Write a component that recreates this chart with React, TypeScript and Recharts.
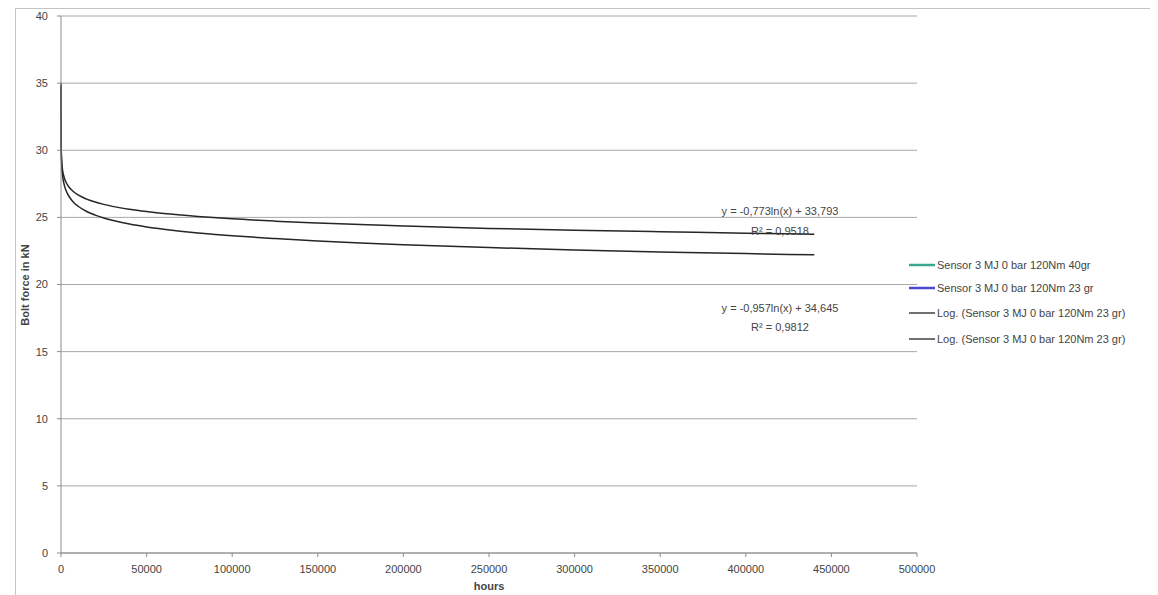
import React from "react";
import { LineChart, Line, XAxis, YAxis, CartesianGrid } from "recharts";

const hours = [0, 100, 500, 1000, 2000, 3000, 5000, 7000, 10000, 15000, 20000, 25000, 30000, 40000, 50000, 60000, 80000, 100000, 125000, 150000, 175000, 200000, 250000, 300000, 350000, 400000, 440000];
const upperCurve = [35.0, 30.25, 28.99, 28.45, 27.92, 27.6, 27.21, 26.95, 26.67, 26.36, 26.14, 25.97, 25.82, 25.6, 25.43, 25.29, 25.07, 24.89, 24.72, 24.58, 24.46, 24.36, 24.18, 24.04, 23.93, 23.82, 23.75];
const lowerCurve = [34.8, 30.24, 28.7, 28.03, 27.37, 26.98, 26.5, 26.17, 25.83, 25.44, 25.17, 24.95, 24.78, 24.5, 24.29, 24.12, 23.84, 23.63, 23.42, 23.24, 23.09, 22.96, 22.75, 22.57, 22.43, 22.3, 22.21];

const xTicks = [0, 50000, 100000, 150000, 200000, 250000, 300000, 350000, 400000, 450000, 500000];
const yTicks = [0, 5, 10, 15, 20, 25, 30, 35, 40];

const legendNames = [
  "Sensor 3 MJ 0 bar 120Nm 40gr",
  "Sensor 3 MJ 0 bar 120Nm 23 gr",
  "Log. (Sensor 3 MJ 0 bar 120Nm 23 gr)",
  "Log. (Sensor 3 MJ 0 bar 120Nm 23 gr)",
];
const legendColors = ["#3aa88c", "#4a4ad0", "#404040", "#404040"];

const equationLines = [
  "y = -0,773ln(x) + 33,793",
  "R² = 0,9518",
  "y = -0,957ln(x) + 34,645",
  "R² = 0,9812",
];

const data = hours.map((h, i) => ({ hours: h, upper: upperCurve[i], lower: lowerCurve[i] }));

const FONT = "'Liberation Sans', Arial, sans-serif";
const TEXT = "#444444";

export default function App() {
  const legendY = [257, 280, 305, 331];
  const eqY = [203, 223, 300, 319];
  return (
    <div style={{ position: "relative", width: 1150, height: 587, overflow: "hidden", background: "#fff" }}>
      <div
        style={{
          position: "absolute",
          left: 7,
          top: 0,
          width: 1134,
          height: 620,
          border: "1px solid #c4c4c4",
          borderRightColor: "#b0b0b0",
        }}
      />
      <LineChart
        width={1150}
        height={587}
        data={data}
        margin={{ top: 8, right: 241, bottom: 12, left: 13 }}
        style={{ position: "absolute", left: 0, top: 0 }}
      >
        <CartesianGrid horizontal vertical={false} stroke="#a8a8a8" strokeWidth={1} />
        <XAxis
          dataKey="hours"
          type="number"
          domain={[0, 500000]}
          ticks={xTicks}
          interval={0}
          height={30}
          tickSize={4}
          tickMargin={8}
          stroke="#8c8c8c"
          tick={{ fill: TEXT, fontSize: 11, fontFamily: FONT }}
        />
        <YAxis
          type="number"
          domain={[0, 40]}
          ticks={yTicks}
          interval={0}
          width={40}
          tickSize={4}
          tickMargin={9}
          stroke="#8c8c8c"
          tick={{ fill: TEXT, fontSize: 11, fontFamily: FONT }}
        />
        <Line
          type="monotone"
          dataKey="upper"
          name={legendNames[2]}
          stroke="#262626"
          strokeWidth={1.5}
          dot={false}
          isAnimationActive={false}
        />
        <Line
          type="monotone"
          dataKey="lower"
          name={legendNames[3]}
          stroke="#262626"
          strokeWidth={1.5}
          dot={false}
          isAnimationActive={false}
        />
      </LineChart>
      <svg
        width={1150}
        height={587}
        style={{ position: "absolute", left: 0, top: 0, pointerEvents: "none" }}
      >
        <text
          x={481}
          y={582}
          textAnchor="middle"
          fontFamily={FONT}
          fontSize={11}
          fontWeight="bold"
          fill={TEXT}
        >
          hours
        </text>
        <text
          x={0}
          y={0}
          transform="translate(21 277) rotate(-90)"
          textAnchor="middle"
          fontFamily={FONT}
          fontSize={11}
          fontWeight="bold"
          fill={TEXT}
        >
          Bolt force in kN
        </text>
        {equationLines.map((t, i) => (
          <text
            key={i}
            x={772}
            y={eqY[i] + 4}
            textAnchor="middle"
            fontFamily={FONT}
            fontSize={11}
            fill={TEXT}
          >
            {t}
          </text>
        ))}
        {legendNames.map((n, i) => (
          <g key={i}>
            <line
              x1={901}
              x2={927}
              y1={legendY[i]}
              y2={legendY[i]}
              stroke={legendColors[i]}
              strokeWidth={i < 2 ? 2.5 : 1.5}
            />
            <text x={929} y={legendY[i] + 4} fontFamily={FONT} fontSize={11} fill={TEXT}>
              {n}
            </text>
          </g>
        ))}
      </svg>
    </div>
  );
}
